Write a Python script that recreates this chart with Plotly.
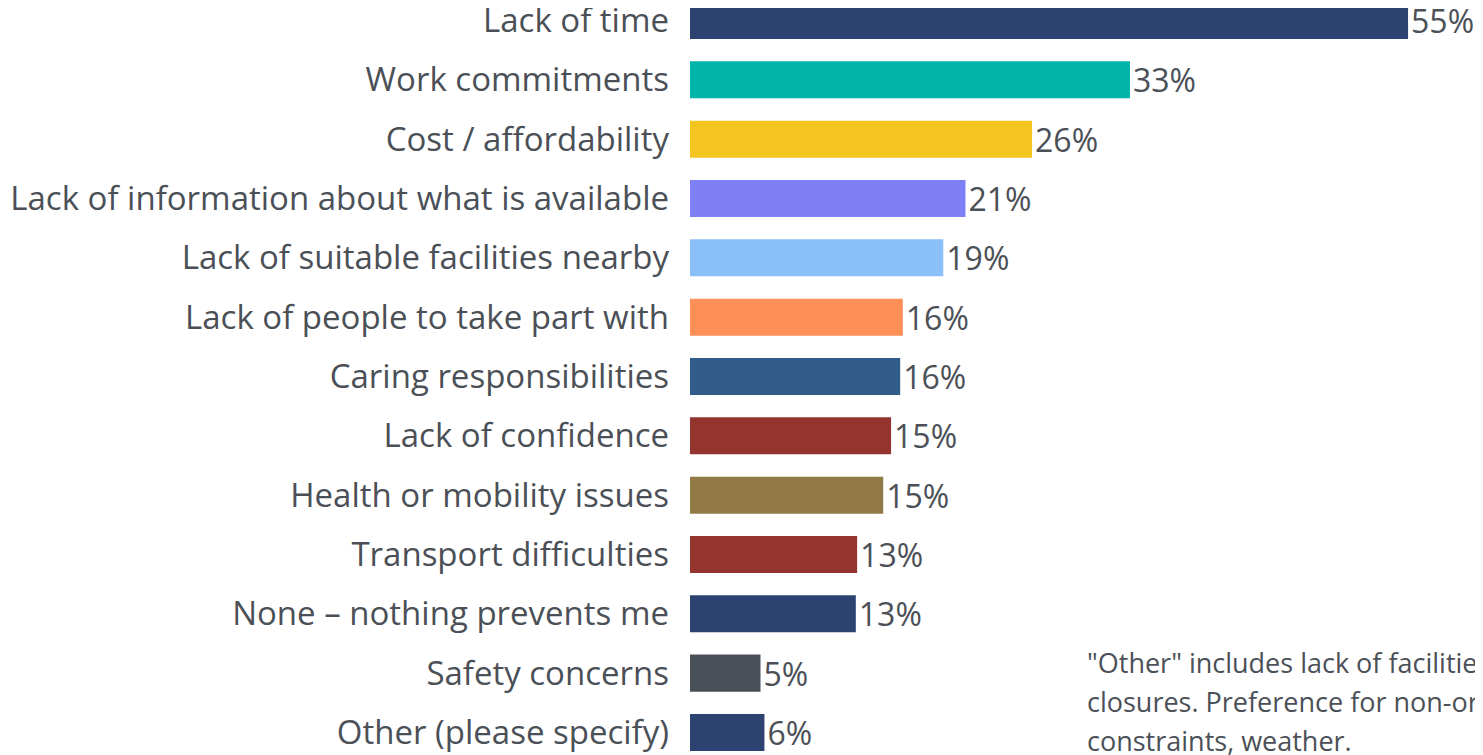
import plotly.graph_objects as go

categories = [
    "Lack of time",
    "Work commitments",
    "Cost / affordability",
    "Lack of information about what is available",
    "Lack of suitable facilities nearby",
    "Lack of people to take part with",
    "Caring responsibilities",
    "Lack of confidence",
    "Health or mobility issues",
    "Transport difficulties",
    "None \u2013 nothing prevents me",
    "Safety concerns",
    "Other (please specify)",
]
values = [55.0, 33.7, 26.2, 21.1, 19.4, 16.3, 16.1, 15.4, 14.8, 12.8, 12.7, 5.4, 5.7]
value_labels = ["55%", "33%", "26%", "21%", "19%", "16%", "16%", "15%", "15%", "13%", "13%", "5%", "6%"]
colors = ["#2c4372", "#00b4a9", "#f4c520", "#7f7ff6", "#8bbff9", "#fd8f57", "#325d8a",
          "#93342f", "#917a45", "#93342f", "#2c4372", "#4a5058", "#2c4372"]
note_lines = [
    "\"Other\" includes lack of facilities / venue",
    "closures. Preference for non-organised activity, time",
    "constraints, weather.",
]

W, H = 1483, 755
ML, MR = 682, 49
fig = go.Figure(go.Bar(
    x=values, y=categories, orientation="h",
    marker=dict(color=colors, line=dict(width=0)),
    text=value_labels, textposition="outside", cliponaxis=False,
    constraintext="none",
    textfont=dict(family="Open Sans", size=32, color="#4b5057"),
    width=0.624,
))

fig.update_layout(
    width=W, height=H,
    margin=dict(l=ML, r=MR, t=0, b=0),
    paper_bgcolor="white", plot_bgcolor="white",
    showlegend=False,
    font=dict(family="Open Sans", color="#4b5057"),
    xaxis=dict(range=[0, 57.6], visible=False, automargin=False),
    yaxis=dict(type="category", range=[12.515, -0.211], showgrid=False, showline=False,
               automargin=False,
               tickfont=dict(family="Open Sans", size=33, color="#4b5057"),
               ticklabelstandoff=20, ticks=""),
)

plot_w = W - ML - MR
for i, line in enumerate(note_lines):
    px = 1077
    py = 654 + 39 * i
    fig.add_annotation(
        x=(px - ML) / plot_w, y=1 - py / H, xref="paper", yref="paper",
        text=line, showarrow=False, xanchor="left", yanchor="middle",
        font=dict(family="Open Sans", size=27, color="#4b5057"),
    )

fig.write_html("out.html")
